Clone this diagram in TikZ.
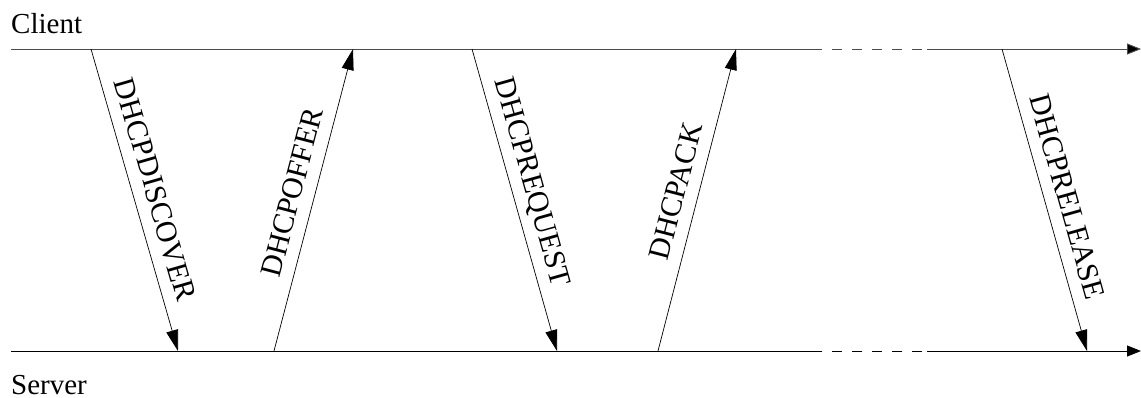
\documentclass[tikz,border=0pt]{standalone}
\usepackage{fontspec}
\setmainfont{Liberation Serif}
\usetikzlibrary{arrows.meta}
\begin{document}
\begin{tikzpicture}[x=1pt, y=-1pt,
  axis/.style={line width=0.9pt},
  msg/.style={line width=0.7pt, -{Triangle[length=21pt, width=12pt]}},
  msglabel/.style={sloped, above, inner xsep=0pt, inner ysep=12.5pt, text depth=0pt,
    font=\fontsize{30}{35}\selectfont},
  partyname/.style={anchor=base west, inner sep=0pt, font=\fontsize{29}{34}\selectfont},
  gap/.style={dash pattern=on 10pt off 10pt, dash phase=10pt}
]
\useasboundingbox (0,0) rectangle (1141,398);

% party labels
\node[partyname] (client) at (11,34) {Client};
\node[partyname] (server) at (11,394) {Server};

% time axes: solid, a dashed break, then solid again with an arrow
\coordinate (c0) at (11,49);
\coordinate (c1) at (822,49);
\coordinate (c2) at (927,49);
\coordinate (cE) at (1141,49);
\coordinate (s0) at (11,351);
\coordinate (s1) at (822,351);
\coordinate (s2) at (927,351);
\coordinate (sE) at (1141,351);

\draw[axis, black!70] (c0) -- (c1);
\draw[axis, black!70, gap] (c1) -- (c2);
\draw[axis, black!70, -{Triangle[length=14pt, width=11pt, fill=black]}] (c2) -- (cE);
\draw[axis] (s0) -- (s1);
\draw[axis, gap] (s1) -- (s2);
\draw[axis, -{Triangle[length=14pt, width=11pt]}] (s2) -- (sE);

% message end points
\coordinate (discoverA) at (91,49);
\coordinate (discoverB) at (178,351);
\coordinate (offerA) at (274,351);
\coordinate (offerB) at (353,49);
\coordinate (requestA) at (472,49);
\coordinate (requestB) at (557,351);
\coordinate (ackA) at (658,351);
\coordinate (ackB) at (736,49);
\coordinate (releaseA) at (1002,49);
\coordinate (releaseB) at (1087,351);

% messages
\draw[msg] (discoverA) -- node[msglabel, pos=0.487] (lDiscover) {DHCPDISCOVER} (discoverB);
\draw[msg] (offerA) -- node[msglabel, pos=0.507] (lOffer) {DHCPOFFER} (offerB);
\draw[msg] (requestA) -- node[msglabel, pos=0.46] (lRequest) {DHCPREQUEST} (requestB);
\draw[msg] (ackA) -- node[msglabel, pos=0.51] (lAck) {DHCPACK} (ackB);
\draw[msg] (releaseA) -- node[msglabel, pos=0.51] (lRelease) {DHCPRELEASE} (releaseB);
\end{tikzpicture}
\end{document}
